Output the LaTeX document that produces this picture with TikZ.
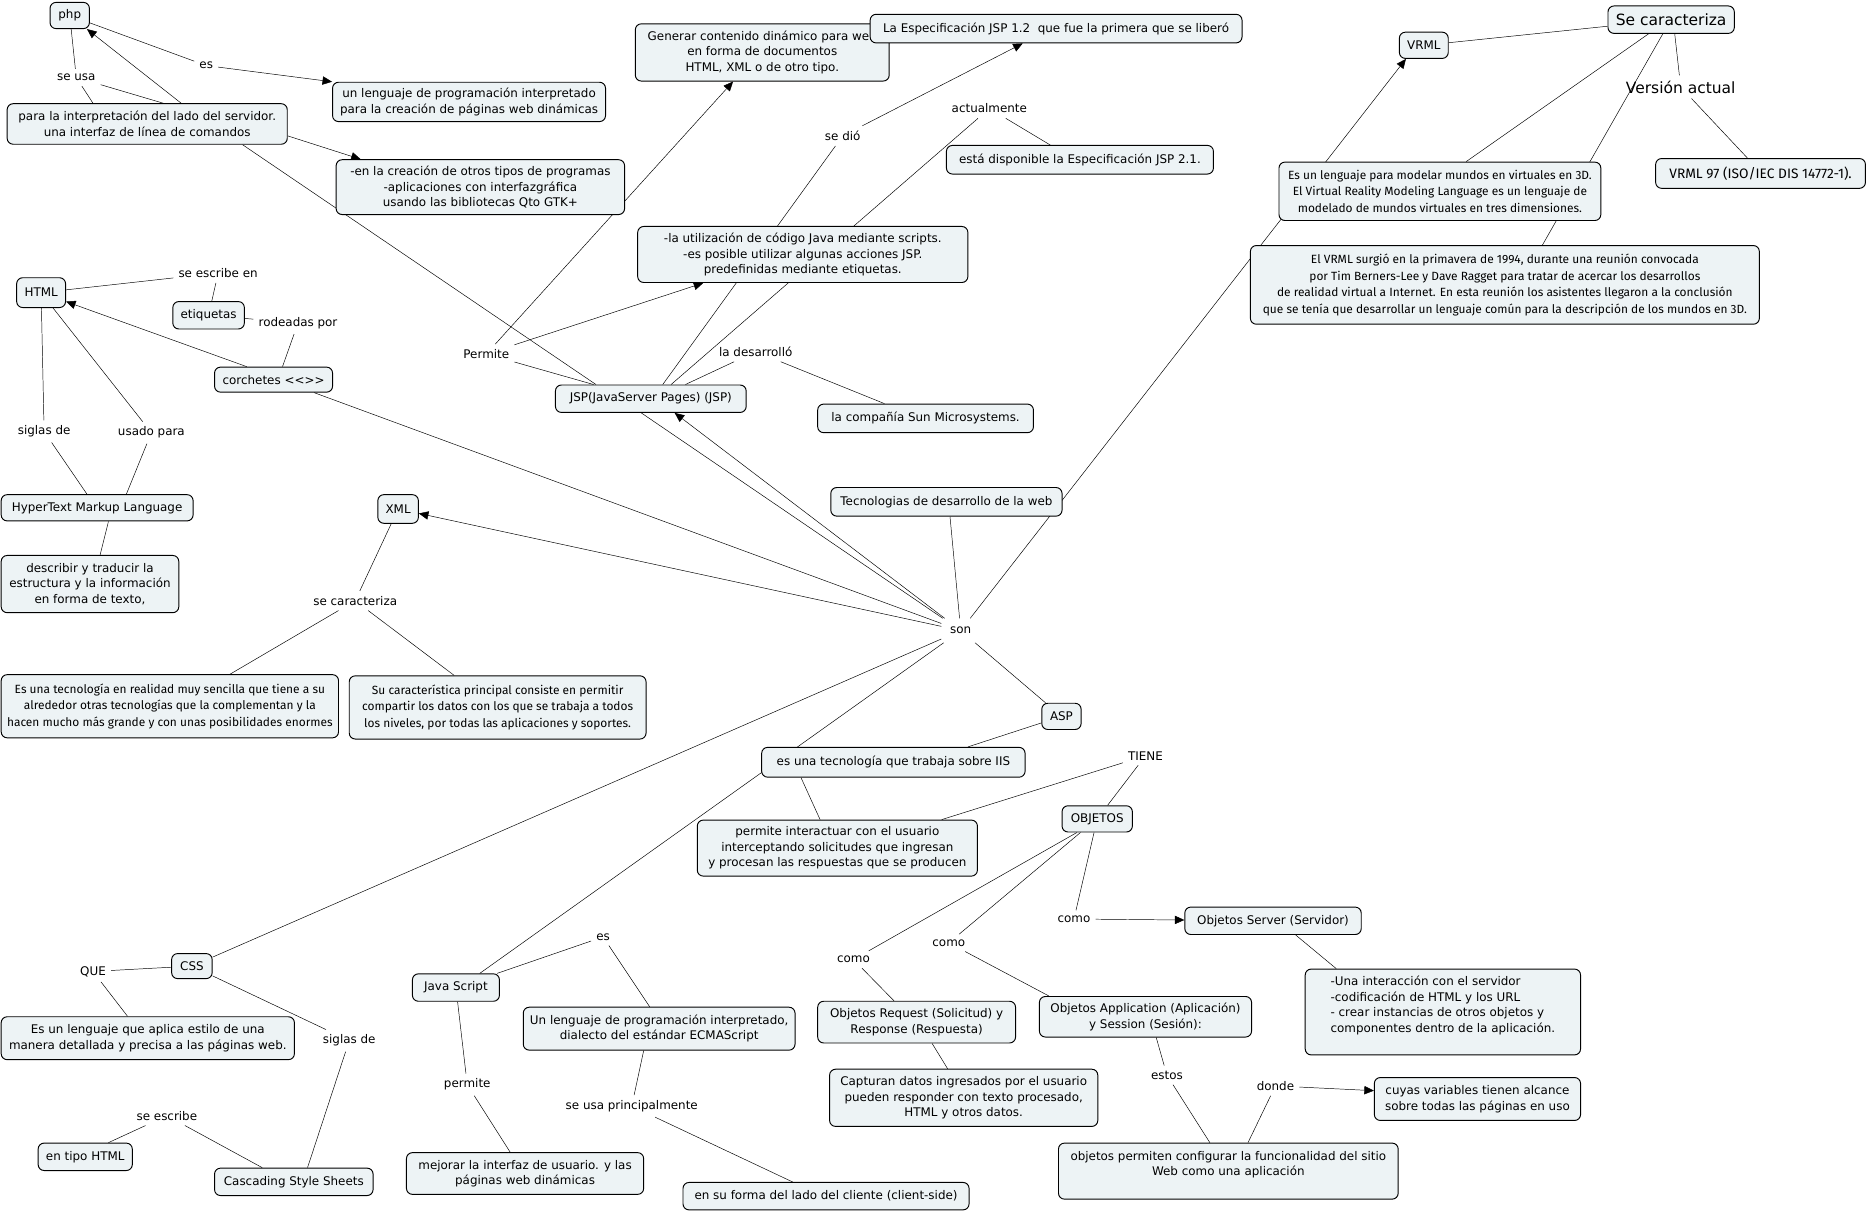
\documentclass[tikz,border=0pt]{standalone}
\usepackage{fontspec}
\setmainfont{DejaVu Sans}
\newfontfamily\comicfont{Fira Sans}
\usetikzlibrary{arrows.meta}
\pgfdeclarelayer{fondo}
\pgfsetlayers{fondo,main}
\definecolor{relleno}{RGB}{237,243,245}

\begin{document}
\begin{tikzpicture}[x=1pt,y=-1pt,line width=0.8pt,>={Triangle[length=8pt,width=7pt]},
  concepto/.style={draw,rounded corners=5pt,fill=relleno,align=center,inner sep=3pt,font=\fontsize{10}{13}\selectfont},
  comic/.style={concepto,font=\comicfont\fontsize{10}{14}\selectfont},
  enlace/.style={inner sep=4pt,font=\fontsize{10}{13}\selectfont},
  grande/.style={font=\fontsize{13}{15}\selectfont},
  caja/.style 2 args={minimum width=#1pt,minimum height=#2pt}]
\useasboundingbox (0,0) rectangle (1568,1017);

\node[concepto,caja={33}{22}](php) at (58.5,13){php};
\node[enlace](es1) at (173,55){es};
\node[enlace](seusa) at (64,65){se usa};
\node[concepto,caja={235}{34}](interp) at (123.5,104){para la interpretación del lado del servidor.\\una interfaz de línea de comandos};
\node[concepto,caja={229}{33}](lenguaje) at (393.5,85.5){un lenguaje de programación interpretado\\para la creación de páginas web dinámicas};
\node[concepto,caja={242}{46}](creacion) at (403,157){-en la creación de otros tipos de programas\\-aplicaciones con interfazgráfica\\usando las bibliotecas Qto GTK+};

\node[concepto,caja={213}{48}](generar) at (639.5,44){Generar contenido dinámico para web\\en forma de documentos\\HTML, XML o de otro tipo.};
\node[concepto,caja={312}{24}](jspuno) at (886,24){La Especificación JSP 1.2~ que fue la primera que se liberó};
\node[enlace](sedio) at (707,114){se dió};
\node[enlace](actual) at (830,91){actualmente};
\node[concepto,caja={224}{24}](disponible) at (906,134){está disponible la Especificación JSP 2.1.};
\node[concepto,caja={277}{47}](scripts) at (673.5,213.5){-la utilización de código Java mediante scripts.\\-es posible utilizar algunas acciones JSP.\\predefinidas mediante etiquetas.};
\node[enlace](permite) at (408,297){Permite};
\node[enlace](desarrollo) at (634,295){la desarrolló};
\node[concepto,caja={160}{23}](jsp) at (546,334.5){JSP(JavaServer Pages) (JSP)};
\node[concepto,caja={181}{24}](sun) at (776.5,351){la compañía Sun Microsystems.};
\node[concepto,caja={194}{24}](tecno) at (794,421){Tecnologias de desarrollo de la web};
\node[enlace,inner sep=7pt](son) at (806,529){son};

\node[concepto,caja={41}{25}](html) at (34.5,245.5){HTML};
\node[enlace](escribe) at (183,229){se escribe en};
\node[concepto,caja={60}{23}](etiq) at (175,264.5){etiquetas};
\node[enlace](rodeadas) at (250,271){rodeadas por};
\node[concepto,caja={99}{21}](corch) at (229.5,318.5){corchetes <\kern0pt<>\kern0pt>};
\node[enlace](siglas1) at (37,362){siglas de};
\node[enlace](usado) at (127,363){usado para};
\node[concepto,caja={161}{22}](hyper) at (81.5,426){HyperText Markup Language};
\node[concepto,caja={149}{48}](describir) at (75.5,490){describir y traducir la\\estructura y la información\\en forma de texto,};

\node[concepto,caja={34}{24}](xml) at (334,427){XML};
\node[enlace](caract) at (298,504){se caracteriza};
\node[comic,caja={283}{53}](sencilla) at (142.5,592.5){Es una tecnología en realidad muy sencilla que tiene a su\\alrededor otras tecnologías que la complementan y la\\hacen mucho más grande y con unas posibilidades enormes};
\node[comic,caja={249}{53}](comparte) at (417.5,593.5){Su característica principal consiste en permitir\\compartir los datos con los que se trabaja a todos\\los niveles, por todas las aplicaciones y soportes.};

\node[concepto,caja={41}{22}](vrml) at (1194.5,38){VRML};
\node[concepto,grande,caja={106}{23}](secar) at (1402,16.5){Se caracteriza};
\node[enlace,grande](version) at (1410,73){Versión actual};
\node[comic,caja={270}{49}](modelar) at (1208,160.5){Es un lenguaje para modelar mundos en virtuales en 3D.\\El Virtual Reality Modeling Language es un lenguaje de\\modelado de mundos virtuales en tres dimensiones.};
\node[comic,caja={176}{25},font=\comicfont\fontsize{11.5}{14}\selectfont](vrml97) at (1477,145.5){VRML 97 (ISO/IEC DIS 14772-1).};
\node[comic,caja={427}{66}](surgio) at (1262.5,239){El VRML surgió en la primavera de 1994, durante una reunión convocada\\por Tim Berners-Lee y Dave Ragget para tratar de acercar los desarrollos\\de realidad virtual a Internet. En esta reunión los asistentes llegaron a la conclusión\\que se tenía que desarrollar un lenguaje común para la descripción de los mundos en 3D.};

\node[concepto,caja={33}{22}](asp) at (890.5,601){ASP};
\node[concepto,caja={221}{25}](iis) at (749.5,639.5){es una tecnología que trabaja sobre IIS};
\node[enlace](tiene) at (961,634){TIENE};
\node[concepto,caja={59}{22}](objetos) at (920.5,687){OBJETOS};
\node[concepto,caja={235}{47}](interactuar) at (702.5,711.5){permite interactuar con el usuario\\interceptando solicitudes que ingresan\\y procesan las respuestas que se producen};
\node[enlace](como1) at (716,805){como};
\node[enlace](como2) at (796,791){como};
\node[enlace](como3) at (901,771){como};
\node[concepto,caja={148}{23}](server) at (1068,772.5){Objetos Server (Servidor)};
\node[concepto,align=left,caja={231}{72}](instancias) at (1210.5,849){-Una interacción con el servidor\\-codificación de HTML y los URL\\- crear instancias de otros objetos y\\componentes dentro de la aplicación.\\\mbox{}};
\node[concepto,caja={166}{35}](request) at (769,857.5){Objetos Request (Solicitud) y\\Response (Respuesta)};
\node[concepto,caja={178}{34}](application) at (961,853){Objetos Application (Aplicación)\\y Session (Sesión):};
\node[concepto,caja={225}{48}](capturan) at (808.5,921){Capturan datos ingresados por el usuario\\pueden responder con texto procesado,\\HTML y otros datos.};
\node[enlace](estos) at (979,902){estos};
\node[enlace](donde) at (1070,911){donde};
\node[concepto,caja={173}{36}](alcance) at (1239.5,922){cuyas variables tienen alcance\\sobre todas las páginas en uso};
\node[concepto,caja={285}{47}](configurar) at (1030.5,982.5){objetos permiten configurar la funcionalidad del sitio\\Web como una aplicación\\\mbox{}};

\node[concepto,caja={73}{23}](js) at (382.5,828.5){Java Script};
\node[enlace](es2) at (506,786){es};
\node[concepto,caja={228}{36}](ecma) at (553,863){Un lenguaje de programación interpretado,\\dialecto del estándar ECMAScript};
\node[enlace](permite2) at (392,910){permite};
\node[enlace](usaprin) at (530,928){se usa principalmente};
\node[concepto,caja={199}{35}](mejorar) at (440.5,984.5){mejorar la interfaz de usuario. y las\\páginas web dinámicas};
\node[concepto,caja={240}{23}](cliente) at (693,1003.5){en su forma del lado del cliente (client-side)};

\node[concepto,caja={34}{21}](css) at (161,810.5){CSS};
\node[enlace](que) at (78,815){QUE};
\node[concepto,caja={246}{36}](estilo) at (124,871){Es un lenguaje que aplica estilo de una\\manera detallada y precisa a las páginas web.};
\node[enlace](siglas2) at (293,873){siglas de};
\node[enlace](escribe2) at (140,936){se escribe};
\node[concepto,caja={79}{23}](tipohtml) at (71.5,970.5){en tipo HTML};
\node[concepto,caja={133}{23}](cascading) at (246.5,991.5){Cascading Style Sheets};

\begin{pgfonlayer}{fondo}
\draw (php) -- (seusa);
\draw (seusa) -- ([xshift=-45.5pt]interp.north);
\draw (seusa) -- ([xshift=13.5pt]interp.north);
\draw[->] ([xshift=28.5pt]interp.north) -- (php);
\draw (php) -- (es1);
\draw[->] (es1) -- (lenguaje.north west);
\draw[->] ([yshift=-10pt]interp.east) -- ([xshift=21pt]creacion.north west);
\draw ([xshift=80pt]interp.south) -- ([xshift=-46pt]jsp.north);

\draw (permite) -- ([xshift=-48pt]jsp.north);
\draw[->] (permite) -- ([xshift=-24.5pt]generar.south);
\draw[->] (permite) -- ([xshift=-83.5pt]scripts.south);
\draw ([xshift=10pt]jsp.north) -- (sedio);
\draw[->] (sedio) -- ([xshift=-28pt]jspuno.south);
\draw ([xshift=17pt]jsp.north) -- (actual);
\draw (actual) -- ([xshift=-25pt]disponible.north);
\draw ([xshift=29pt]jsp.north) -- (desarrollo);
\draw (desarrollo) -- ([xshift=-34.5pt]sun.north);
\draw ([xshift=-8pt]jsp.south) -- (son);
\draw[->] (son) -- ([xshift=20pt]jsp.south);

\draw (html) -- (escribe);
\draw (escribe) -- (etiq);
\draw (etiq) -- (rodeadas);
\draw (rodeadas) -- ([xshift=7.5pt]corch.north);
\draw[->] ([xshift=-22.5pt]corch.north) -- (html);
\draw ([xshift=34pt]corch.south) -- (son);
\draw (html) -- (siglas1);
\draw (siglas1) -- ([xshift=-8.5pt]hyper.north);
\draw ([xshift=10pt]html.south) -- (usado);
\draw (usado) -- ([xshift=24.5pt]hyper.north);
\draw ([xshift=9.5pt]hyper.south) -- ([xshift=8.5pt]describir.north);

\draw[->] (son) -- (xml);
\draw (xml) -- (caract);
\draw (caract) -- ([xshift=50.5pt]sencilla.north);
\draw (caract) -- ([xshift=-36.5pt]comparte.north);

\draw[->] (son) -- ([xshift=-15pt]vrml.south);
\draw (vrml) -- (secar);
\draw ([xshift=-19pt]secar.south) -- ([xshift=22pt]modelar.north);
\draw ([xshift=-7pt]secar.south) -- ([xshift=31.5pt]surgio.north);
\draw ([xshift=3pt]secar.south) -- (version);
\draw (version) -- ([xshift=-11pt]vrml97.north);

\draw ([xshift=3pt]tecno.south) -- (son);
\draw (son) -- (asp);
\draw (son) -- (css);
\draw (son) -- ([xshift=20pt]js.north);

\draw (asp) -- ([xshift=62.5pt]iis.north);
\draw ([xshift=-77.5pt]iis.south) -- ([xshift=-14.5pt]interactuar.north);
\draw (tiene) -- ([xshift=87.5pt]interactuar.north);
\draw (tiene) -- (objetos);
\draw ([xshift=-17pt]objetos.south) -- (como1);
\draw ([xshift=-14pt]objetos.south) -- (como2);
\draw (objetos) -- (como3);
\draw[->] (como3) -- (server);
\draw (como1) -- ([xshift=-19pt]request.north);
\draw (como2) -- ([xshift=-81pt]application.north);
\draw ([xshift=19pt]server.south) -- ([xshift=-89.5pt]instancias.north);
\draw ([xshift=13pt]request.south) -- ([xshift=-13.5pt]capturan.north);
\draw ([xshift=9pt]application.south) -- (estos);
\draw (estos) -- ([xshift=-15.5pt]configurar.north);
\draw ([xshift=16.5pt]configurar.north) -- (donde);
\draw[->] (donde) -- ([yshift=7pt]alcance.west);

\draw (js) -- (es2);
\draw (es2) -- ([xshift=-8pt]ecma.north);
\draw (js) -- (permite2);
\draw (permite2) -- ([xshift=-12.5pt]mejorar.north);
\draw ([xshift=-13pt]ecma.south) -- (usaprin);
\draw (usaprin) -- ([xshift=-28pt]cliente.north);

\draw (css) -- (que);
\draw (que) -- ([xshift=-17pt]estilo.north);
\draw (css) -- (siglas2);
\draw (siglas2) -- ([xshift=11.5pt]cascading.north);
\draw ([xshift=-26.5pt]cascading.north) -- (escribe2);
\draw (escribe2) -- ([xshift=19.5pt]tipohtml.north);
\end{pgfonlayer}
\end{tikzpicture}
\end{document}
